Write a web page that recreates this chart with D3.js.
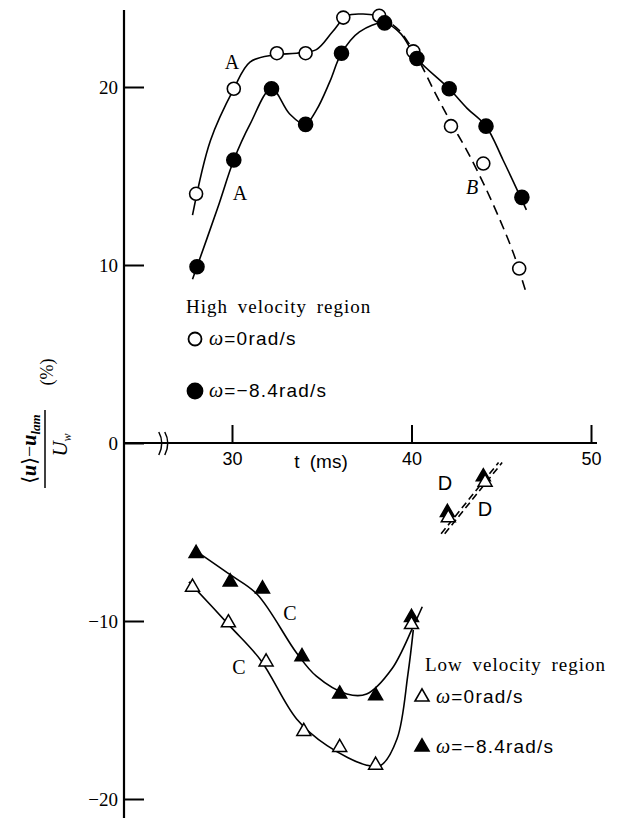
<!DOCTYPE html>
<html lang="en">
<head>
<meta charset="utf-8">
<title>Velocity regions</title>
<script src="https://cdnjs.cloudflare.com/ajax/libs/d3/7.8.5/d3.min.js"></script>
<style>
  body { margin: 0; background: #fff; }
  svg { display: block; background: #fff; }
  .axis path.domain { display: none; }
  .axis line { stroke: #000; stroke-width: 2; }
  .axis text { fill: #000; }
  .curve { fill: none; stroke: #000; stroke-width: 1.6; }
</style>
</head>
<body>
<div id="chart"></div>
<script>
// high velocity region, omega = 0 (open circles) and -8.4 rad/s (filled)
var hiOpenT = [28, 30.1, 32.5, 34.1, 36.2, 38.2, 40.1, 42.2, 44.0, 46.0];
var hiOpenV = [14.0, 19.9, 21.9, 21.9, 23.9, 24.0, 22.0, 17.8, 15.7, 9.8];
var hiFillT = [28.05, 30.1, 32.2, 34.1, 36.1, 38.5, 40.3, 42.1, 44.15, 46.15];
var hiFillV = [9.9, 15.9, 19.9, 17.9, 21.9, 23.6, 21.6, 19.9, 17.8, 13.8];

// low velocity region
var loOpenT = [27.8, 29.8, 31.9, 34.0, 36.0, 38.0, 40.0];
var loOpenV = [-8.1, -10.1, -12.3, -16.2, -17.1, -18.1, -10.2];
var loFillT = [28.0, 29.9, 31.7, 33.9, 36.0, 38.0, 40.0];
var loFillV = [-6.2, -7.8, -8.2, -12.0, -14.1, -14.2, -9.8];

// points near the axis (curves D)
var dOpenT = [42.05, 44.1];
var dOpenV = [-4.2, -2.2];
var dFillT = [42.0, 44.0];
var dFillV = [-3.9, -1.9];

// hand drawn fit curves
var curveAT = [27.8, 28.8, 30.1, 31.0, 32.3, 33.6, 34.7, 35.6, 36.4, 37.3, 38.2];
var curveAV = [12.8, 17.0, 19.9, 21.4, 21.8, 21.9, 22.1, 23.1, 24.0, 24.1, 24.0];
var curveBT = [38.2, 39.3, 40.4, 41.3, 42.2, 43.1, 44.0, 44.9, 45.7, 46.4];
var curveBV = [24.0, 23.2, 21.5, 19.7, 18.0, 16.4, 14.6, 12.6, 10.6, 8.4];
var curveA2T = [27.8, 29.2, 30.1, 31.0, 32.2, 33.2, 34.07, 34.7, 35.45, 36.1, 37.1, 38.5, 39.4, 40.3, 42.1, 43.1, 44.15, 45.1, 46.4];
var curveA2V = [9.2, 13.2, 15.9, 17.9, 19.9, 18.5, 17.9, 18.7, 20.3, 21.9, 23.1, 23.6, 23.0, 21.6, 19.9, 18.8, 17.8, 15.9, 13.1];
var curveCFillT = [27.9, 29.9, 31.4, 33.6, 34.7, 36.4, 37.5, 38.9, 40.1, 40.6];
var curveCFillV = [-6.0, -7.4, -8.5, -11.8, -13.1, -14.1, -14.1, -12.7, -10.3, -9.2];
var curveCOpenT = [27.6, 29.9, 31.6, 33.6, 35.3, 37.5, 38.3, 39.2, 39.8, 40.1];
var curveCOpenV = [-7.8, -10.3, -12.2, -15.5, -17.0, -18.1, -18.1, -16.6, -13.0, -10.5];
var curveD1T = [41.65, 44.85];
var curveD1V = [-5.1, -1.1];
var curveD2T = [41.85, 45.05];
var curveD2V = [-5.1, -1.1];

var xTicks = [30, 40, 50];
var yTicks = [20, 10, 0, -10, -20];

var width = 629, height = 818;

var svg = d3.select("#chart").append("svg")
  .attr("width", width)
  .attr("height", height);

var x = d3.scaleLinear().domain([30, 50]).range([232, 591]);
var y = d3.scaleLinear().domain([-20, 20]).range([799, 87]);
var axisX = 124;

// axes lines
svg.append("line")
  .attr("x1", axisX).attr("x2", axisX)
  .attr("y1", 10).attr("y2", height)
  .attr("stroke", "#000").attr("stroke-width", 2.2);
svg.append("line")
  .attr("x1", axisX).attr("x2", 597)
  .attr("y1", y(0)).attr("y2", y(0))
  .attr("stroke", "#000").attr("stroke-width", 2.2);

var yAxis = d3.axisLeft(y)
  .tickValues(yTicks)
  .tickSize(-20)
  .tickPadding(6)
  .tickFormat(function(d) { return d < 0 ? "\u2212" + Math.abs(d) : d; });

svg.append("g")
  .attr("class", "axis")
  .attr("transform", "translate(" + axisX + ",0)")
  .call(yAxis)
  .attr("font-family", "Liberation Serif")
  .attr("font-size", 19);

var xAxis = d3.axisBottom(x).tickValues(xTicks).tickSize(-18).tickPadding(9);
svg.append("g")
  .attr("class", "axis")
  .attr("transform", "translate(0," + y(0) + ")")
  .call(xAxis)
  .attr("font-family", "Liberation Sans")
  .attr("font-size", 18);

// axis break
var bx = x(26.2);
[-3, 3].forEach(function(o) {
  svg.append("path")
    .attr("d", "M" + (bx + o - 2) + "," + (y(0) - 11) + " Q" + (bx + o + 4) + "," + y(0) + " " + (bx + o - 2) + "," + (y(0) + 12))
    .attr("fill", "none").attr("stroke", "#000").attr("stroke-width", 1.5);
});

svg.append("text")
  .attr("x", 321).attr("y", 468)
  .attr("text-anchor", "middle")
  .attr("font-family", "Liberation Sans")
  .attr("font-size", 19)
  .attr("word-spacing", 5)
  .text("t (ms)");

// y label (rotated fraction)
var yl = svg.append("g")
  .attr("transform", "translate(45,449) rotate(-90)")
  .attr("font-family", "Liberation Serif, DejaVu Serif");
var num = yl.append("text").attr("x", 0).attr("y", -9).attr("text-anchor", "middle").attr("font-size", 20);
num.append("tspan").text("\u27E8");
num.append("tspan").attr("font-style", "italic").attr("font-weight", "bold").text("u");
num.append("tspan").text("\u27E9\u2212");
num.append("tspan").attr("font-style", "italic").attr("font-weight", "bold").text("u");
num.append("tspan").attr("font-style", "italic").attr("font-weight", "bold").attr("font-size", 13).attr("dy", 4).text("lam");
yl.append("line").attr("x1", -39).attr("x2", 39).attr("y1", 0).attr("y2", 0)
  .attr("stroke", "#000").attr("stroke-width", 1.5);
var den = yl.append("text").attr("x", 4).attr("y", 22).attr("text-anchor", "middle").attr("font-size", 21);
den.append("tspan").attr("font-style", "italic").text("U");
den.append("tspan").attr("font-style", "italic").attr("font-size", 12).attr("dy", 4).text("w");
yl.append("text").attr("x", 77).attr("y", 8).attr("text-anchor", "middle").attr("font-size", 18).text("(%)");

// curves
var line = d3.line()
  .x(function(d) { return x(d[0]); })
  .y(function(d) { return y(d[1]); })
  .curve(d3.curveCatmullRom.alpha(0.5));

function drawCurve(ts, vs, dash) {
  svg.append("path")
    .datum(d3.zip(ts, vs))
    .attr("class", "curve")
    .attr("stroke-dasharray", dash || null)
    .attr("d", line);
}
drawCurve(curveAT, curveAV);
drawCurve(curveBT, curveBV, "10,6");
drawCurve(curveA2T, curveA2V);
drawCurve(curveCFillT, curveCFillV);
drawCurve(curveCOpenT, curveCOpenV);
drawCurve(curveD1T, curveD1V, "7,4");
drawCurve(curveD2T, curveD2V, "7,4");

// markers
function circles(ts, vs, filled) {
  svg.append("g").selectAll("circle")
    .data(d3.zip(ts, vs))
    .enter().append("circle")
    .attr("cx", function(d) { return x(d[0]); })
    .attr("cy", function(d) { return y(d[1]); })
    .attr("r", filled ? 7 : 6.5)
    .attr("fill", filled ? "#000" : "#fff")
    .attr("stroke", "#000")
    .attr("stroke-width", 1.6);
}
var tri = d3.symbol().type(d3.symbolTriangle).size(85);
function triangles(ts, vs, filled) {
  svg.append("g").selectAll("path")
    .data(d3.zip(ts, vs))
    .enter().append("path")
    .attr("d", tri)
    .attr("transform", function(d) { return "translate(" + x(d[0]) + "," + y(d[1]) + ")"; })
    .attr("fill", filled ? "#000" : "#fff")
    .attr("stroke", "#000")
    .attr("stroke-width", 1.5);
}
circles(hiOpenT, hiOpenV, false);
circles(hiFillT, hiFillV, true);
triangles(loFillT, loFillV, true);
triangles(loOpenT, loOpenV, false);
triangles(dFillT, dFillV, true);
triangles(dOpenT, dOpenV, false);

// curve labels
var curveLabels = [
  {t: "A", x: 232, y: 69, font: "Liberation Serif", style: "normal"},
  {t: "A", x: 240, y: 200, font: "Liberation Serif", style: "normal"},
  {t: "B", x: 472, y: 194, font: "Liberation Serif", style: "italic"},
  {t: "C", x: 290, y: 620, font: "Liberation Serif", style: "normal"},
  {t: "C", x: 239, y: 674, font: "Liberation Serif", style: "normal"},
  {t: "D", x: 445, y: 490, font: "Liberation Sans", style: "normal"},
  {t: "D", x: 485, y: 516, font: "Liberation Sans", style: "normal"}
];
svg.append("g").selectAll("text")
  .data(curveLabels)
  .enter().append("text")
  .attr("x", function(d) { return d.x; })
  .attr("y", function(d) { return d.y; })
  .attr("text-anchor", "middle")
  .attr("font-family", function(d) { return d.font; })
  .attr("font-style", function(d) { return d.style; })
  .attr("font-size", 20)
  .text(function(d) { return d.t; });

// legends
svg.append("text")
  .attr("x", 186).attr("y", 313)
  .attr("font-family", "Liberation Serif")
  .attr("font-size", 19)
  .attr("letter-spacing", 1)
  .attr("word-spacing", 4)
  .text("High velocity region");
svg.append("text")
  .attr("x", 425).attr("y", 671)
  .attr("font-family", "Liberation Serif")
  .attr("font-size", 19)
  .attr("letter-spacing", 1)
  .attr("word-spacing", 4)
  .text("Low velocity region");

var legendRows = [
  {kind: "circle", filled: false, x: 195, y: 339, label: "=0rad/s"},
  {kind: "circle", filled: true, x: 195, y: 391, label: "=\u22128.4rad/s"},
  {kind: "tri", filled: false, x: 422, y: 697, label: "=0rad/s"},
  {kind: "tri", filled: true, x: 422, y: 747, label: "=\u22128.4rad/s"}
];
legendRows.forEach(function(r) {
  if (r.kind === "circle") {
    svg.append("circle").attr("cx", r.x).attr("cy", r.y).attr("r", r.filled ? 7.5 : 6.5)
      .attr("fill", r.filled ? "#000" : "#fff").attr("stroke", "#000").attr("stroke-width", 1.8);
  } else {
    svg.append("path").attr("d", tri).attr("transform", "translate(" + r.x + "," + r.y + ")")
      .attr("fill", r.filled ? "#000" : "#fff").attr("stroke", "#000").attr("stroke-width", 1.6);
  }
  var t = svg.append("text")
    .attr("x", r.x + 14).attr("y", r.y + 6)
    .attr("font-family", "Liberation Sans")
    .attr("font-size", 19)
    .attr("letter-spacing", 1.2);
  t.append("tspan").attr("font-family", "Liberation Serif").attr("font-style", "italic").attr("font-size", 20).text("\u03C9");
  t.append("tspan").text(r.label);
});
</script>
</body>
</html>
